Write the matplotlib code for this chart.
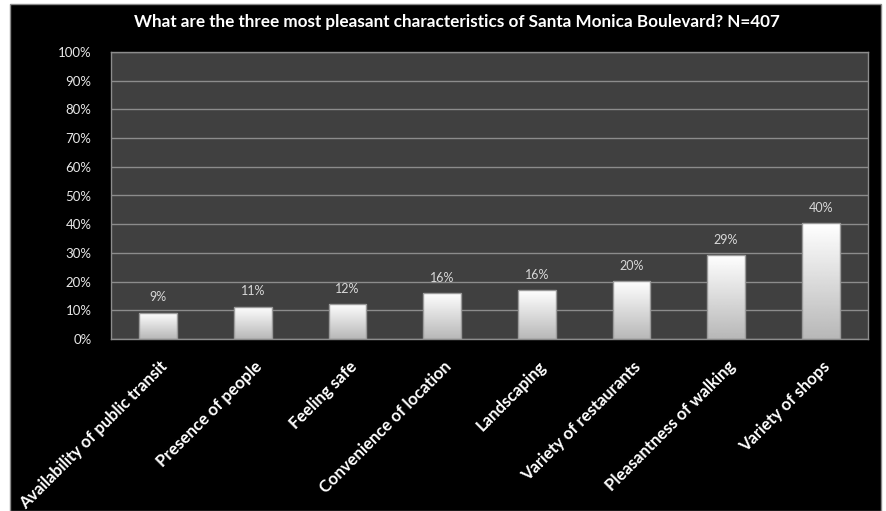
import numpy as np
import matplotlib
matplotlib.use('Agg')
import matplotlib.pyplot as plt
from matplotlib.patches import Rectangle
from matplotlib.transforms import ScaledTranslation

categories = ['Availability of public transit', 'Presence of people', 'Feeling safe',
              'Convenience of location', 'Landscaping', 'Variety of restaurants',
              'Pleasantness of walking', 'Variety of shops']
values = [9.2, 11.3, 12.2, 16.1, 16.9, 20.3, 29.3, 40.3]
value_labels = ['9%', '11%', '12%', '16%', '16%', '20%', '29%', '40%']
yticks = list(range(0, 101, 10))
title = 'What are the three most pleasant characteristics of Santa Monica Boulevard? N=407'

plt.rcParams['font.family'] = ['Lato', 'DejaVu Sans']

W, H = 887, 511
fig = plt.figure(figsize=(W / 100, H / 100), dpi=100, facecolor='white')

# black chart frame with a little white margin around it
frame = Rectangle((10 / W, 0), (881 - 10) / W, (H - 4) / H,
                  transform=fig.transFigure, facecolor='black',
                  edgecolor='#8a8a8a', linewidth=1, zorder=-5)
fig.add_artist(frame)

ax = fig.add_axes([111 / W, (H - 339) / H, (868 - 111) / W, (339 - 52) / H])
ax.set_facecolor('#404040')
for s in ax.spines.values():
    s.set_color('#8c8c8c')
    s.set_linewidth(1)

ax.set_ylim(0, 100)
ax.set_xlim(-0.5, len(categories) - 0.5)
ax.set_yticks(yticks)
ax.set_yticklabels([f'{t}%' for t in yticks], color='#e8e8e8', fontsize=9.5)
ax.yaxis.grid(True, color='#8c8c8c', linewidth=1)
ax.set_axisbelow(True)
ax.tick_params(axis='y', length=0, pad=14)

x = np.arange(len(categories))
width = 0.40
grad = np.linspace(1.0, 0.72, 100).reshape(-1, 1)
for xi, v, lab in zip(x, values, value_labels):
    bar = Rectangle((xi - width / 2, 0), width, v, facecolor='none',
                    edgecolor='#9a9a9a', linewidth=1, zorder=3)
    ax.add_patch(bar)
    im = ax.imshow(grad, cmap='gray', vmin=0, vmax=1, aspect='auto',
                   extent=(xi - width / 2, xi + width / 2, 0, v), zorder=2)
    im.set_clip_path(bar)
    ax.text(xi, v + 3.2, lab, ha='center', va='bottom', color='#d8d8d8', fontsize=9)

ax.set_xticks(x)
ax.set_xticklabels(categories, rotation=45, ha='right', rotation_mode='anchor',
                   color='white', fontsize=12, fontweight='bold')
ax.tick_params(axis='x', length=0, pad=14)
shift = ScaledTranslation(1 / 100, 0, fig.dpi_scale_trans)
for lbl in ax.get_xticklabels():
    lbl.set_transform(lbl.get_transform() + shift)

fig.text(457 / W, 1 - 22 / H, title, ha='center', va='center', color='white',
         fontsize=12.3, fontweight='bold')

fig.savefig('out.png', dpi=100, facecolor='white')
